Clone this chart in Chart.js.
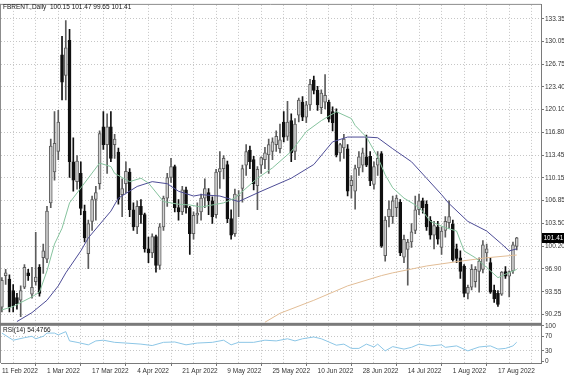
<!DOCTYPE html>
<html><head><meta charset="utf-8">
<script src="https://cdn.jsdelivr.net/npm/chart.js@4/dist/chart.umd.min.js"></script>
<style>html,body{margin:0;padding:0;background:#fff;}canvas{display:block;}</style>
</head><body>
<canvas id="c" width="564" height="376"></canvas>
<script>
// ---- data ----
const symbolName = 'FBRENT.,Daily';
const xTickBars = [0,12,24,36,48,60,72,84,96,108,120,132];
const xTickLabels = ['11 Feb 2022','1 Mar 2022','17 Mar 2022','4 Apr 2022','21 Apr 2022','9 May 2022','25 May 2022','10 Jun 2022','28 Jun 2022','14 Jul 2022','1 Aug 2022','17 Aug 2022'];
const priceTicks = [133.35,130.05,126.75,123.40,120.10,116.80,113.45,110.15,106.85,103.50,100.20,96.90,93.55,90.25];
const rsiTicks = [0,30,70,100];

const open = [
 91.3,95.9,95.4,93.7,92.7,92.3,94.2,96.3,93.2,95.0,
 97.1,98.5,98.3,106.5,111.0,114.0,128.1,125.1,130.2,112.5,
 109.6,110.8,105.3,99.1,103.8,107.0,109.3,117.6,115.0,117.6,
 115.0,113.9,107.7,109.3,111.0,105.5,103.0,106.0,104.8,99.8,
 99.2,101.6,97.4,103.0,107.2,110.2,111.8,105.8,105.2,108.4,
 105.8,102.0,104.7,105.2,107.2,108.0,106.8,104.8,111.0,111.5,
 112.1,104.2,102.0,107.5,108.6,112.0,114.2,112.8,109.0,112.0,
 112.8,113.5,114.0,115.0,114.4,118.3,116.2,118.5,114.0,119.3,
 121.2,119.0,120.8,124.4,122.9,120.4,121.2,121.2,119.8,119.7,
 113.8,114.5,114.4,109.0,108.2,111.6,112.0,113.2,113.3,109.2,
 112.0,113.7,98.8,104.5,104.5,105.8,106.6,98.6,99.7,100.8,
 102.5,105.5,106.8,106.3,104.0,101.8,103.0,100.0,102.5,103.6,
 103.4,99.8,98.5,97.3,93.3,94.2,95.0,96.5,96.8,99.2,
 97.8,93.8,93.3,93.2,96.5,95.8,96.6,100.15];
const high = [
 95.6,96.8,96.0,94.6,93.3,94.4,97.5,96.8,97.1,102.2,
 97.5,100.5,106.0,115.8,119.8,120.0,130.8,133.1,131.8,116.0,
 113.4,112.5,106.2,104.0,107.5,108.9,117.0,119.8,119.5,119.8,
 116.5,114.5,110.0,112.5,111.5,106.5,106.8,107.0,105.0,101.5,
 102.0,101.8,103.5,107.5,110.8,113.0,112.0,107.0,108.9,108.8,
 106.0,105.2,106.5,107.8,110.0,108.6,107.4,111.4,114.0,113.4,
 112.6,105.5,108.5,108.3,112.0,115.0,114.8,113.3,111.8,113.2,
 114.6,115.8,116.0,117.0,118.0,119.8,121.3,119.5,118.8,121.8,
 122.0,121.3,124.5,125.0,123.5,123.0,125.2,121.5,120.5,120.2,
 115.2,116.5,115.0,110.5,112.0,114.0,114.5,116.4,114.0,112.5,
 114.0,114.0,104.5,106.8,107.5,107.6,107.0,101.8,101.2,103.5,
 107.5,107.8,107.2,106.8,104.5,103.8,103.8,103.0,104.5,106.8,
 104.0,100.5,99.5,97.5,94.5,97.5,97.2,98.5,101.0,100.5,
 98.5,94.5,93.7,96.5,97.2,96.6,100.8,101.47];
const low = [
 90.6,94.6,90.6,90.6,91.0,89.9,94.0,95.2,92.6,94.5,
 92.9,96.2,97.8,105.8,109.8,112.8,121.5,121.5,110.2,108.2,
 108.5,104.8,100.8,96.9,102.5,104.0,108.5,114.3,110.8,112.5,
 113.0,106.3,104.5,108.0,104.5,102.5,102.0,103.5,99.3,97.8,
 98.5,96.4,96.8,102.5,106.0,109.5,105.2,104.0,104.8,105.0,
 99.0,101.2,103.5,104.0,105.8,104.8,103.5,104.3,108.6,110.0,
 103.6,101.2,101.6,104.5,106.6,110.5,111.5,108.4,105.5,110.8,
 111.5,110.8,112.8,114.0,113.8,115.4,115.6,112.5,112.8,118.3,
 118.5,118.2,120.0,122.4,120.0,119.5,120.2,118.3,117.0,113.2,
 112.6,113.0,107.5,107.2,105.6,110.5,111.0,111.8,109.0,108.5,
 110.5,100.0,98.0,103.0,103.5,104.5,98.8,97.8,94.5,100.0,
 102.0,104.8,105.0,102.5,101.2,99.8,100.5,99.0,101.5,102.8,
 98.0,97.8,95.5,92.8,92.5,93.8,94.2,93.5,96.3,98.0,
 93.3,92.0,91.4,93.0,95.5,92.8,96.2,99.65];
const close = [
 95.2,96.3,91.3,91.5,91.8,93.7,97.1,95.9,94.2,95.7,
 93.3,99.5,105.3,114.8,115.2,118.3,124.1,129.1,112.5,109.8,
 112.6,105.7,101.4,103.5,107.0,108.0,116.6,115.0,117.6,113.0,
 115.8,107.0,108.6,111.1,105.5,103.0,106.0,104.8,99.8,99.2,
 101.6,97.4,103.0,107.2,110.2,111.8,105.8,105.2,108.4,105.8,
 102.0,104.7,105.0,107.2,108.6,106.8,104.5,111.0,111.5,113.0,
 104.2,101.8,107.8,107.6,111.5,114.0,112.5,109.3,111.4,113.1,
 113.8,115.0,115.4,116.2,115.7,116.1,118.3,113.8,118.0,121.5,
 119.0,120.8,123.8,122.9,120.8,122.5,122.2,118.7,118.2,113.5,
 115.0,115.8,108.2,109.8,111.5,113.2,113.8,112.0,109.7,111.8,
 113.0,100.2,104.0,105.6,106.8,107.2,99.2,101.2,100.8,102.3,
 105.5,106.8,105.8,103.0,101.8,103.2,101.2,102.4,103.8,104.5,
 98.2,98.4,96.5,93.3,94.2,96.8,96.8,98.0,100.4,99.8,
 93.5,92.5,91.7,96.4,95.8,96.5,100.4,101.41];

// fast moving average (green), read at these bars
const maFastBar = [0,3,8,10,12,14,16,18,22,26,29,30,34,37,39,43,47,50,53,59,62,68,72,77,81,85,89,93,94,97,100,102,104,107,110,112,114,118,121,123,126,129,132,134,137];
const maFastVal = [90.9,91.4,92.8,93.5,96.6,100.5,102.8,106.5,109.4,112.3,111.8,110.8,109.6,110.1,109.4,106.7,106.3,106.2,105.9,106.5,107.2,110.1,111.6,114.0,116.9,118.5,119.8,118.8,117.8,116.1,113.2,110.6,108.7,107.2,106.2,105.3,103.8,102.9,102.4,99.5,98.5,97.1,95.6,96.1,96.8];
// slow moving average (blue)
const maSlowBar = [4,8,12,15,17,21,23,29,31,36,40,44,47,51,53,58,63,69,77,83,88,92,97,100,104,109,113,117,119,124,129,133,135,137];
const maSlowVal = [89.2,90.5,92.3,94.4,96.3,99.5,101.4,105.3,107.2,108.9,109.6,109.3,108.2,107.5,107.7,107.5,106.7,108.2,110.1,112.1,115.4,116.1,116.1,116.0,114.4,112.5,110.1,107.7,106.4,103.8,102.4,100.5,99.5,99.8];
// long moving average (tan)
const maLongBar = [70,74,83,92,101,104,113,122,129,137];
const maLongVal = [89.1,90.4,92.3,94.4,95.9,96.3,97.3,98.0,98.5,98.9];
// RSI(14)
const rsiBar = [0,3,6,8,9,11,12,14,15,17,18,20,23,25,27,30,33,37,40,43,46,49,52,56,59,61,63,67,70,73,76,78,80,83,85,87,89,91,93,95,97,99,100,102,104,107,109,111,114,117,118,121,124,127,130,132,134,136,137];
const rsiVal = [80,60,67,71,64,71,80,80,75,84,58,54,47,58,60,54,52,49,45,54,55,47,52,54,60,47,54,54,60,58,64,58,64,69,64,55,46,49,37,37,49,41,49,30,42,35,40,49,44,47,40,44,30,41,44,35,37,44,54.4766];

// ---- chart ----
const n = close.length;
const isBull = close.map((c,i)=>c>=open[i]);
const bullFill = '#d2d2d2', bullEdge = '#5c5c5c', bearFill = '#101010';
const gridCol = '#c6c6c6';
const tickFont = {family:'"Liberation Sans", Arial, sans-serif', size:6.5};
const pts = (bars, vals) => bars.map((b,i)=>({x:b, y:vals[i]}));

const framePlugin = {
  id:'frame',
  afterDraw(chart){
    const ctx = chart.ctx, a = chart.chartArea, y = chart.scales.y;
    ctx.save();
    ctx.strokeStyle = '#8c8c8c'; ctx.lineWidth = 1;
    ctx.beginPath();
    ctx.moveTo(0.5, a.top-1); ctx.lineTo(0.5, a.bottom);
    ctx.moveTo(0, a.top-0.5); ctx.lineTo(a.right, a.top-0.5);
    ctx.stroke();
    ctx.fillStyle = '#7a7a7a';
    ctx.fillRect(0, y.bottom-1, a.right, 3);
    ctx.font = '6.5px "Liberation Sans", Arial, sans-serif';
    ctx.textBaseline = 'middle';
    ctx.fillStyle = '#151515';
    const last = n-1;
    const title = symbolName + '  ' + [open[last],high[last],low[last],close[last]].map(v=>v.toFixed(2)).join(' ');
    ctx.fillText(title, 3, 7.5);
    ctx.fillText('RSI(14) ' + rsiVal[rsiVal.length-1].toFixed(4), 3, y.bottom + 6.5);
    const py = Math.round(y.getPixelForValue(close[last]));
    ctx.fillStyle = '#000';
    ctx.fillRect(a.right+1, py-5, chart.width-a.right-1, 10);
    ctx.fillStyle = '#fff';
    ctx.fillText(close[last].toFixed(2), a.right+2.5, py+0.5);
    ctx.restore();
  }
};

new Chart(document.getElementById('c'), {
  type:'bar',
  data:{
    datasets:[
      {type:'line', data:pts(maFastBar,maFastVal), borderColor:'#86c39e', borderWidth:1, pointRadius:0, tension:0, yAxisID:'y', order:0},
      {type:'line', data:pts(maSlowBar,maSlowVal), borderColor:'#4d4c96', borderWidth:1, pointRadius:0, tension:0, yAxisID:'y', order:0},
      {type:'line', data:pts(maLongBar,maLongVal), borderColor:'#e2bd96', borderWidth:1, pointRadius:0, tension:0, yAxisID:'y', order:0},
      {type:'line', data:pts(rsiBar,rsiVal), borderColor:'#8cc6e6', borderWidth:1, pointRadius:0, tension:0, yAxisID:'yr', order:0},
      {type:'bar', data:open.map((o,i)=>({x:i, y:[o, close[i]]})), backgroundColor:isBull.map(b=>b?bullFill:bearFill),
        borderColor:isBull.map(b=>b?bullEdge:bearFill), borderWidth:1, borderSkipped:false, barThickness:3, minBarLength:1, grouped:false, yAxisID:'y', order:1},
      {type:'bar', data:low.map((l,i)=>({x:i, y:[l, high[i]]})), backgroundColor:isBull.map(b=>b?bullEdge:bearFill),
        borderWidth:0, barThickness:1, grouped:false, yAxisID:'y', order:2}
    ]
  },
  options:{
    responsive:false, animation:false, devicePixelRatio:1,
    layout:{padding:{left:1, top:2, right:0, bottom:0}},
    plugins:{legend:{display:false}, tooltip:{enabled:false}},
    scales:{
      x:{type:'linear', position:'bottom', min:-0.24, max:143.46, offset:false,
        afterBuildTicks:s=>{const t=[]; for(let v=0; v<=138; v+=6) t.push({value:v}); s.ticks=t;},
        afterFit:s=>{s.height=13;},
        ticks:{autoSkip:false, maxRotation:0, minRotation:0, align:'start', padding:1.5, font:tickFont, color:'#333',
          callback:v=>{const k=xTickBars.indexOf(v); return k>=0?xTickLabels[k]:'';}},
        grid:{color:gridCol, tickLength:3, tickColor:c=>xTickBars.indexOf(c.tick&&c.tick.value)>=0?'#777':'rgba(0,0,0,0)', tickBorderDash:[]},
        border:{display:true, color:'#7a7a7a', dash:[1,2]}
      },
      y:{type:'linear', axis:'y', position:'right', stack:'v', stackWeight:321.5, min:88.87, max:135.37,
        afterBuildTicks:s=>{s.ticks=priceTicks.map(v=>({value:v}));},
        afterFit:s=>{s.width=23;},
        ticks:{autoSkip:false, padding:1, font:tickFont, color:'#333', callback:v=>Number(v).toFixed(2)},
        grid:{color:gridCol, tickLength:3, tickColor:'#777', tickBorderDash:[]},
        border:{display:true, color:'#7a7a7a', dash:[1,2]}
      },
      yr:{type:'linear', axis:'y', position:'right', stack:'v', stackWeight:39.5, min:-4, max:106,
        afterBuildTicks:s=>{s.ticks=rsiTicks.map(v=>({value:v}));},
        afterFit:s=>{s.width=23;},
        ticks:{autoSkip:false, padding:1, font:tickFont, color:'#333', callback:v=>String(v)},
        grid:{color:c=>(c.tick&&(c.tick.value===30||c.tick.value===70))?gridCol:'rgba(0,0,0,0)', tickLength:3, tickColor:'#777', tickBorderDash:[]},
        border:{display:true, color:'#7a7a7a', dash:[1,2]}
      }
    }
  },
  plugins:[framePlugin]
});
</script>
</body></html>
